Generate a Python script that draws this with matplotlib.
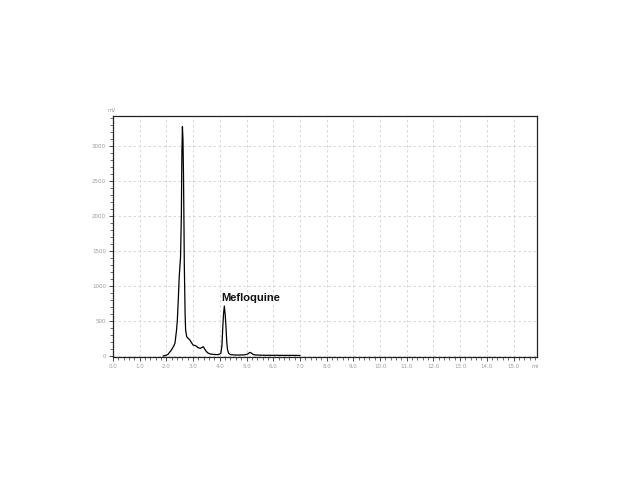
import matplotlib
matplotlib.use("Agg")
import matplotlib.pyplot as plt
from matplotlib.ticker import MultipleLocator, FixedLocator

# Chromatogram trace (time in min, detector response)
time_min = [1.88, 2.05, 2.19, 2.27, 2.32, 2.38, 2.41, 2.45, 2.48, 2.53, 2.56, 2.58,
            2.60, 2.62, 2.64, 2.66, 2.67, 2.70, 2.72, 2.76, 2.82, 2.88, 2.94, 3.00, 3.07,
            3.13, 3.18, 3.26, 3.32, 3.38, 3.45, 3.50, 3.57, 3.65, 3.80, 3.95, 4.04, 4.08,
            4.11, 4.14, 4.17, 4.20, 4.23, 4.26, 4.29, 4.33, 4.40, 4.55, 4.75, 4.95, 5.05,
            5.10, 5.14, 5.18, 5.25, 5.35, 5.55, 5.80, 6.10, 6.40, 6.70, 7.00]
response = [0, 20, 86, 140, 181, 371, 514, 847, 1133, 1418, 2000, 2900,
            3276, 3100, 2600, 1800, 1324, 609, 371, 276, 250, 229, 190, 157, 150,
            140, 120, 110, 120, 133, 90, 62, 40, 28, 22, 20, 40, 150,
            400, 600, 714, 600, 430, 200, 90, 40, 20, 15, 14, 18, 30,
            45, 52, 42, 22, 14, 12, 10, 10, 9, 9, 8]

peak_label = "Mefloquine"
peak_label_pos = (4.04, 830)

x_major = list(range(0, 16))
x_ticklabels = [f"{v:.1f}" for v in x_major]
y_major = [0, 500, 1000, 1500, 2000, 2500, 3000]

fig = plt.figure(figsize=(6.43, 4.82), dpi=100)
ax = fig.add_axes([113/643, 1-357/482, (537-113)/643, (357-116)/482])

ax.plot(time_min, response, color="black", lw=0.9)

ax.set_xlim(0, 15.88)
ax.set_ylim(-14, 3429)

ax.xaxis.set_major_locator(FixedLocator(x_major))
ax.set_xticklabels(x_ticklabels)
ax.xaxis.set_minor_locator(MultipleLocator(0.2))
ax.yaxis.set_major_locator(FixedLocator(y_major))
ax.set_yticklabels([str(v) for v in y_major])
ax.yaxis.set_minor_locator(MultipleLocator(100))

ax.tick_params(axis="both", which="major", labelsize=4, labelcolor="#9a9a9a",
               length=3, width=0.6, color="#333333", pad=2)
ax.tick_params(axis="both", which="minor", length=2, width=0.5, color="#333333")

ax.grid(True, which="major", linestyle=(0, (3, 3)), color="#d0d0d0", linewidth=0.6)
ax.set_axisbelow(True)

for s in ax.spines.values():
    s.set_linewidth(0.9)
    s.set_color("#222222")

ax.text(peak_label_pos[0], peak_label_pos[1], peak_label, fontsize=8, fontweight="bold",
        family=["Liberation Sans", "DejaVu Sans"], ha="left", va="center", color="#111111")

# axis unit labels
fig.text(535/643, 1-366/482, "mi", fontsize=4, color="#9a9a9a", ha="center", va="center")
fig.text(112/643, 1-110/482, "mV", fontsize=3.5, color="#9a9a9a", ha="center", va="center")

fig.savefig("out.png", dpi=100, facecolor="white")
